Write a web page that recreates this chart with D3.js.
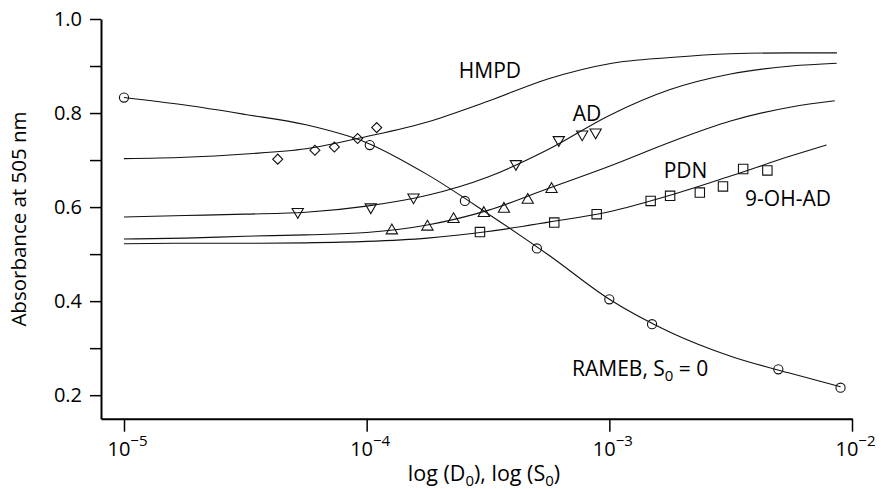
<!DOCTYPE html>
<html>
<head>
<meta charset="utf-8">
<script src="https://d3js.org/d3.v7.min.js"></script>
<style>
  body { margin: 0; background: #fff; }
  svg { display: block; font-family: "Open Sans", "Noto Sans", sans-serif; }
  .curve { fill: none; stroke: #111; stroke-width: 1.1; }
  .mark { fill: none; stroke: #111; stroke-width: 1.1; }
  .axis path, .axis line { stroke: #000; }
  .axis path { stroke-width: 2; }
  .axis line { stroke-width: 1.5; }
</style>
</head>
<body>
<script>
// fitted curves on a common x grid (plus each curve's end point)
var gridX = [1e-5, 1.78e-5, 3.16e-5, 5.62e-5, 1e-4, 1.78e-4, 3.16e-4, 5.62e-4, 1e-3, 1.78e-3, 3.16e-3, 5.62e-3];
var hmpdCurve  = [0.703, 0.706, 0.713, 0.724, 0.750, 0.781, 0.825, 0.873, 0.905, 0.918, 0.926, 0.928, 0.928];
var adCurve    = [0.579, 0.582, 0.585, 0.589, 0.602, 0.625, 0.664, 0.723, 0.795, 0.850, 0.883, 0.900, 0.906];
var pdnCurve   = [0.532, 0.534, 0.538, 0.541, 0.546, 0.562, 0.593, 0.640, 0.687, 0.738, 0.783, 0.813, 0.826];
var ohadCurve  = [0.522, 0.523, 0.523, 0.524, 0.527, 0.534, 0.548, 0.568, 0.590, 0.625, 0.666, 0.709, 0.732];
var ramebCurve = [0.833, 0.817, 0.797, 0.775, 0.737, 0.669, 0.586, 0.498, 0.404, 0.334, 0.283, 0.246, 0.218];
var curveEndX  = { HMPD: 8.67e-3, AD: 8.65e-3, PDN: 8.49e-3, OHAD: 7.85e-3, RAMEB: 8.97e-3 };

// measured points
var ramebX = [1e-5, 1.03e-4, 2.54e-4, 5.03e-4, 1e-3, 1.5e-3, 4.97e-3, 8.97e-3];
var ramebY = [0.833, 0.732, 0.613, 0.512, 0.404, 0.351, 0.255, 0.216];
var hmpdX  = [4.30e-5, 6.12e-5, 7.36e-5, 9.18e-5, 1.10e-4];
var hmpdY  = [0.702, 0.721, 0.728, 0.746, 0.769];
var adX    = [5.2e-5, 1.04e-4, 1.56e-4, 4.12e-4, 6.19e-4, 7.73e-4, 8.78e-4];
var adY    = [0.590, 0.600, 0.621, 0.692, 0.743, 0.755, 0.759];
var pdnX   = [1.27e-4, 1.78e-4, 2.28e-4, 3.04e-4, 3.68e-4, 4.61e-4, 5.78e-4];
var pdnY   = [0.550, 0.558, 0.574, 0.587, 0.596, 0.615, 0.638];
var ohadX  = [2.93e-4, 5.93e-4, 8.87e-4, 1.48e-3, 1.78e-3, 2.36e-3, 2.94e-3, 3.56e-3, 4.48e-3];
var ohadY  = [0.547, 0.567, 0.585, 0.613, 0.624, 0.631, 0.644, 0.681, 0.678];

// axis ticks
var xTicks = [1e-5, 1e-4, 1e-3, 1e-2];
var xTickExp = ["−5", "−4", "−3", "−2"];
var yTicks = [0.2, 0.3, 0.4, 0.5, 0.6, 0.7, 0.8, 0.9, 1.0];
var yLabelled = [0.2, 0.4, 0.6, 0.8, 1.0];

var width = 882, height = 489;

var svg = d3.select("body").append("svg").attr("width", width).attr("height", height);

var x = d3.scaleLog().domain([8.04e-6, 1e-2]).range([101, 852]);
var y = d3.scaleLinear().domain([0.15, 1.0]).range([418.7, 19]);

// axes
var yAxis = d3.axisLeft(y).tickValues(yTicks).tickSize(11).tickSizeOuter(0).tickPadding(8)
  .tickFormat(function(d) { return yLabelled.some(function(v) { return Math.abs(v - d) < 1e-9; }) ? d3.format(".1f")(d) : ""; });
var gy = svg.append("g").attr("class", "axis").attr("transform", "translate(101,0)").call(yAxis);
gy.selectAll("text").attr("font-size", 20).attr("font-family", "Open Sans").attr("fill", "#000");

var xAxis = d3.axisBottom(x).tickValues(xTicks).tickSize(13).tickSizeOuter(0).tickFormat("");
var gx = svg.append("g").attr("class", "axis").attr("transform", "translate(0,418.7)").call(xAxis);
gx.selectAll(".tick").each(function(d, i) {
  var t = d3.select(this).append("text").attr("y", 37).attr("x", 3)
    .attr("text-anchor", "middle").attr("fill", "#000").attr("font-size", 20).attr("font-family", "Open Sans");
  t.append("tspan").text("10");
  t.append("tspan").attr("dy", -10).attr("font-size", 15).text(xTickExp[i]);
});

// axis titles
svg.append("text").attr("transform", "translate(26,219) rotate(-90)").attr("text-anchor", "middle")
  .attr("font-size", 20.5).text("Absorbance at 505 nm");

var xt = svg.append("text").attr("x", 484).attr("y", 481).attr("text-anchor", "middle").attr("font-size", 21.5);
xt.append("tspan").text("log (D");
xt.append("tspan").attr("dy", 5).attr("font-size", 15).text("0");
xt.append("tspan").attr("dy", -5).text("), log (S");
xt.append("tspan").attr("dy", 5).attr("font-size", 15).text("0");
xt.append("tspan").attr("dy", -5).text(")");

// curves
var line = d3.line().x(function(d) { return x(d[0]); }).y(function(d) { return y(d[1]); }).curve(d3.curveMonotoneX);
function curvePts(ys, endX) {
  return gridX.concat([endX]).map(function(v, i) { return [v, ys[i]]; });
}
var curves = [
  curvePts(hmpdCurve, curveEndX.HMPD),
  curvePts(adCurve, curveEndX.AD),
  curvePts(pdnCurve, curveEndX.PDN),
  curvePts(ohadCurve, curveEndX.OHAD),
  curvePts(ramebCurve, curveEndX.RAMEB)
];
svg.append("g").selectAll("path").data(curves).enter().append("path")
  .attr("class", "curve").attr("d", line);

// markers
function pts(xs, ys) { return xs.map(function(v, i) { return [v, ys[i]]; }); }
var series = [
  { data: pts(ramebX, ramebY), sym: d3.symbolCircle, size: 66, rot: 0 },
  { data: pts(hmpdX, hmpdY), sym: d3.symbolSquare, size: 50, rot: 45 },
  { data: pts(adX, adY), sym: d3.symbolTriangle, size: 55, rot: 180 },
  { data: pts(pdnX, pdnY), sym: d3.symbolTriangle, size: 55, rot: 0 },
  { data: pts(ohadX, ohadY), sym: d3.symbolSquare, size: 88, rot: 0 }
];
series.forEach(function(s) {
  svg.append("g").selectAll("path").data(s.data).enter().append("path")
    .attr("class", "mark")
    .attr("d", d3.symbol().type(s.sym).size(s.size))
    .attr("transform", function(d) { return "translate(" + x(d[0]) + "," + y(d[1]) + ") rotate(" + s.rot + ")"; });
});

// curve labels
var labels = [
  { text: "HMPD", x: 3.22e-4, y: 0.874 },
  { text: "AD", x: 8.09e-4, y: 0.783 },
  { text: "PDN", x: 2.06e-3, y: 0.661 },
  { text: "9-OH-AD", x: 5.45e-3, y: 0.602 }
];
svg.append("g").selectAll("text").data(labels).enter().append("text")
  .attr("x", function(d) { return x(d.x); }).attr("y", function(d) { return y(d.y); })
  .attr("text-anchor", "middle").attr("font-size", 21).text(function(d) { return d.text; });

var rl = svg.append("text").attr("x", x(1.34e-3)).attr("y", y(0.240)).attr("text-anchor", "middle").attr("font-size", 21);
rl.append("tspan").text("RAMEB, S");
rl.append("tspan").attr("dy", 5).attr("font-size", 15).text("0");
rl.append("tspan").attr("dy", -5).text(" = 0");
</script>
</body>
</html>
